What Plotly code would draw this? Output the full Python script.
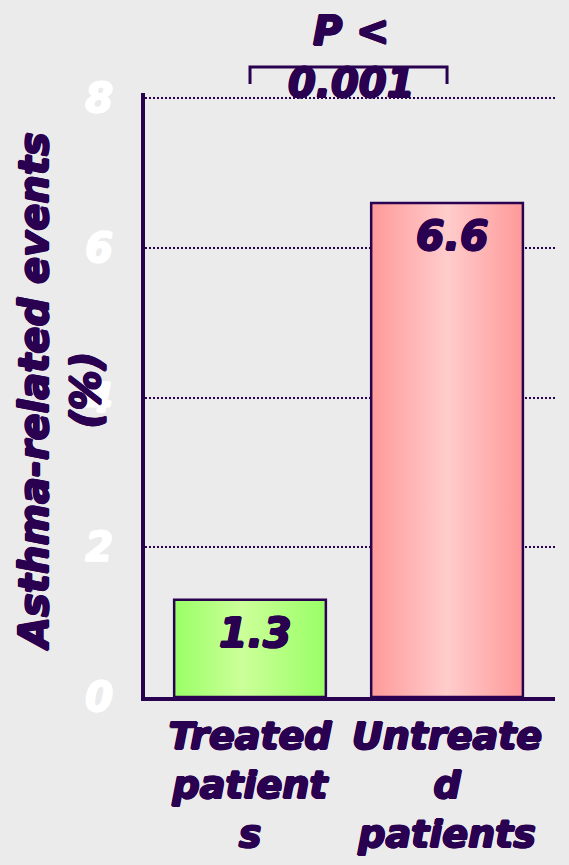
import plotly.graph_objects as go

# Data
categories = ["Treated<br>patient<br>s", "Untreate<br>d<br>patients"]
events_pct = [1.3, 6.6]
y_ticks = [0, 2, 4, 6, 8]
p_label = "P &lt;<br>0.001"
y_title = "Asthma-related events<br>(%)"

# Styling
INK = "#2a0050"
BG = "#ebebeb"
FONT = "DejaVu Sans"
fills = [
    [[0, "#99ff66"], [0.45, "#ccff99"], [1, "#99ff66"]],
    [[0, "#ff9999"], [0.5, "#ffcccc"], [1, "#ff9999"]],
]
bar_w = 0.77
x_lo, x_hi = -0.533, 1.548
y_hi = 8.07


def heavy(color):
    # thin outline in the text colour to give a heavier face
    return ", ".join(f"{dx}px {dy}px 0px {color}" for dx, dy in
                     [(1, 0), (-1, 0), (0, 1), (0, -1), (0.7, 0.7), (-0.7, -0.7)])


def font(size, color):
    return dict(family=FONT, size=size, color=color, weight="bold",
                style="italic", shadow=heavy(color))


fig = go.Figure()

# Bars drawn as filled rectangles so each can carry a horizontal gradient
for i, v in enumerate(events_pct):
    x0, x1 = i - bar_w / 2, i + bar_w / 2
    fig.add_trace(go.Scatter(
        x=[x0, x1, x1, x0, x0],
        y=[0, 0, v, v, 0],
        mode="lines",
        fill="toself",
        fillgradient=dict(type="horizontal", colorscale=fills[i]),
        line=dict(color=INK, width=2.5),
        hoverinfo="skip",
        showlegend=False,
    ))
    fig.add_annotation(
        x=i, y=v, xref="x", yref="y",
        text=f"{v:.1f}", showarrow=False,
        yanchor="middle", yshift=-33, xshift=5,
        font=font(41, INK),
    )

# Significance bracket between the two bars
def px(xv):
    return (xv - x_lo) / (x_hi - x_lo)

def py(yv):
    return yv / y_hi

b_top, b_end = 8.417, 8.19
fig.add_shape(
    type="path", xref="paper", yref="paper",
    path=f"M {px(0)},{py(b_end)} L {px(0)},{py(b_top)} L {px(1)},{py(b_top)} L {px(1)},{py(b_end)}",
    line=dict(color=INK, width=3),
)
fig.add_annotation(
    x=0.5, y=py(8.55), xref="x", yref="paper",
    text=p_label, showarrow=False, xshift=3,
    yanchor="middle",
    font=font(40, INK),
)

# Rotated y-axis title
fig.add_annotation(
    x=(60 - 145) / 410, y=0.505, xref="paper", yref="paper",
    text=y_title, showarrow=False, textangle=-90,
    xanchor="center", yanchor="middle",
    font=font(40, INK),
)

fig.update_layout(
    width=569, height=865,
    margin=dict(l=145, r=14, t=93, b=168),
    paper_bgcolor=BG, plot_bgcolor=BG,
    showlegend=False,
    xaxis=dict(
        range=[x_lo, x_hi],
        tickvals=list(range(len(categories))),
        ticktext=categories,
        showgrid=False, zeroline=False, automargin=False,
        showline=True, linecolor=INK, linewidth=4,
        ticks="", ticklabelstandoff=2,
        tickfont=font(38, INK),
    ),
    yaxis=dict(
        range=[0, y_hi],
        tickvals=y_ticks,
        ticktext=[str(t) for t in y_ticks],
        showgrid=True, gridcolor=INK, gridwidth=2, griddash="2px,2px",
        zeroline=False, automargin=False,
        showline=True, linecolor=INK, linewidth=4,
        ticks="", ticklabelstandoff=20,
        tickfont=font(40, "white"),
    ),
)

fig.write_html("out.html")
